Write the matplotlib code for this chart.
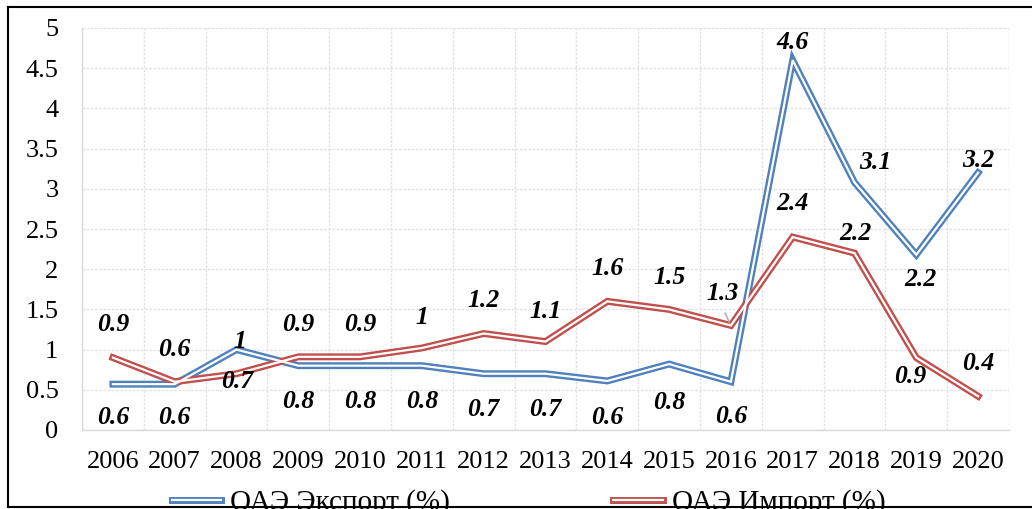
import matplotlib.pyplot as plt
from matplotlib.lines import Line2D
from matplotlib.legend_handler import HandlerTuple
from matplotlib.ticker import FuncFormatter, MultipleLocator

years = ["2006", "2007", "2008", "2009", "2010", "2011", "2012", "2013",
         "2014", "2015", "2016", "2017", "2018", "2019", "2020"]
export = [0.57, 0.57, 1.0, 0.8, 0.8, 0.8, 0.7, 0.7, 0.61, 0.82, 0.6, 4.6, 3.08, 2.18, 3.2]
imports = [0.9, 0.6, 0.7, 0.91, 0.91, 1.02, 1.2, 1.1, 1.6, 1.5, 1.3, 2.4, 2.2, 0.9, 0.42]

export_name = "ОАЭ Экспорт (%)"
import_name = "ОАЭ Импорт (%)"

# label offsets in pixels (dx, dy) relative to the data point
export_off = [(0, -33), (0, -33), (3, 8), (0, -36), (0, -36), (0, -36), (0, -36), (0, -36),
              (0, -37), (0, -38), (0, -35), (0, 18), (21, 20), (4, -25), (0, 12)]
import_off = [(0, 33), (0, 32), (1, -8), (0, 32), (0, 32), (0, 30), (0, 33), (0, 30),
              (0, 33), (0, 32), (-8, 32), (0, 34), (1, 20), (-6, -19), (0, 33)]

BLUE = "#4F81BD"
RED = "#C0504D"
FONT = "Liberation Serif"

plt.rcParams["font.family"] = FONT

fig = plt.figure(figsize=(10.32, 5.09), dpi=100)
ax = fig.add_axes([82 / 1032, 79 / 509, 927 / 1032, 402 / 509])

x = list(range(len(years)))


def double_line(vals, color):
    ax.plot(x, vals, color=color, lw=5.0, solid_joinstyle="miter", zorder=3)
    ax.plot(x, vals, color="white", lw=1.6, solid_joinstyle="miter", zorder=4)


double_line(export, BLUE)
double_line(imports, RED)

for xi, v, off in zip(x, export, export_off):
    ax.annotate(f"{round(v, 1):g}", (xi, v), xytext=off, textcoords="offset pixels",
                ha="center", va="center", fontsize=18.5, fontweight="bold",
                fontstyle="italic", zorder=5)
for xi, v, off in zip(x, imports, import_off):
    ax.annotate(f"{round(v, 1):g}", (xi, v), xytext=off, textcoords="offset pixels",
                ha="center", va="center", fontsize=18.5, fontweight="bold",
                fontstyle="italic", zorder=5)

# small leader line for the 2016 import label
ax.annotate("", xy=(10, imports[10]), xytext=(-7, 15), textcoords="offset pixels",
            arrowprops=dict(arrowstyle="-", color="#A6A6A6", lw=1), zorder=5)

ax.set_xlim(-0.5, len(years) - 0.5)
ax.set_ylim(0, 5)
ax.set_xticks(x)
ax.set_xticklabels(years)
ax.xaxis.set_minor_locator(MultipleLocator(1, offset=0.5))
ax.yaxis.set_major_locator(MultipleLocator(0.5))
ax.yaxis.set_major_formatter(FuncFormatter(lambda v, p: f"{v:g}"))

ax.tick_params(axis="x", which="both", length=0, pad=15, labelsize=19)
ax.tick_params(axis="y", length=0, pad=17, labelsize=19)

ax.grid(True, axis="y", which="major", color="#E3E3E3", lw=1, ls=(0, (2, 1)))
ax.grid(True, axis="x", which="minor", color="#E3E3E3", lw=1, ls=(0, (2, 1)))
ax.grid(False, axis="x", which="major")
ax.set_axisbelow(True)

for s in ["top", "right"]:
    ax.spines[s].set_visible(False)
for s in ["left", "bottom"]:
    ax.spines[s].set_color("#D9D9D9")
    ax.spines[s].set_linewidth(1)

h_exp = (Line2D([], [], color=BLUE, lw=5.0), Line2D([], [], color="white", lw=1.6))
h_imp = (Line2D([], [], color=RED, lw=5.0), Line2D([], [], color="white", lw=1.6))
fig.legend([h_exp, h_imp], [export_name, import_name],
           handler_map={tuple: HandlerTuple(ndivide=1, pad=0)},
           loc="center", bbox_to_anchor=(0.512, 0.012), ncol=2, frameon=False,
           fontsize=21, handlelength=1.7, handletextpad=0.3, columnspacing=5.6,
           borderpad=0)

# outer frame of the picture
W, H = 1032, 509
fig.add_artist(Line2D([8 / W, 8 / W], [2 / H, 1 - 7 / H], transform=fig.transFigure,
                      color="black", lw=1.5))
fig.add_artist(Line2D([8 / W, 1.0], [1 - 7 / H, 1 - 7 / H], transform=fig.transFigure,
                      color="black", lw=1.5))
fig.add_artist(Line2D([8 / W, 1.0], [2 / H, 2 / H], transform=fig.transFigure,
                      color="black", lw=1.5, zorder=10))

fig.savefig("out.png", dpi=100)
